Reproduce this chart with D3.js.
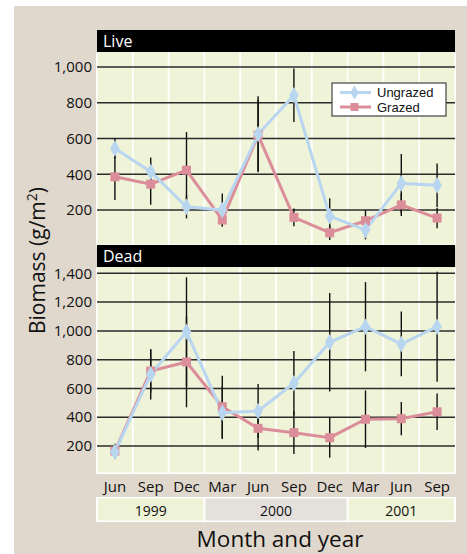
<!DOCTYPE html>
<html><head><meta charset="utf-8">
<script src="https://cdn.jsdelivr.net/npm/d3@7"></script>
<style>html,body{margin:0;padding:0;background:#fff;}svg{display:block;font-family:"Open Sans","Noto Sans",sans-serif;}</style>
</head><body>
<script>
const months = ["Jun","Sep","Dec","Mar","Jun","Sep","Dec","Mar","Jun","Sep"];
const monthYears = ["1999","1999","1999","2000","2000","2000","2000","2001","2001","2001"];
const years = ["1999","2000","2001"];
const seriesNames = ["Ungrazed","Grazed"];

const liveUngrazed    = [544,414,218,200,624,842,166, 88,349,338];
const liveUngrazedErr = [ 56, 80, 65, 93,212,150,100, 52,165,122];
const liveGrazed      = [386,345,423,144,619,159, 73,140,229,155];
const liveGrazedErr   = [130,115,213, 30,200, 50, 40, 60, 63, 57];

const deadUngrazed    = [160,698,994,432,443,636,921,1029,909,1029];
const deadUngrazedErr = [ 50,175,378,183,188,224,342, 310,225, 382];
const deadGrazed      = [165,721,784,473,323,293,258, 386,390, 438];
const deadGrazedErr   = [ 50,150,315,216,155,148,140, 200,116, 127];

const liveTicks = [200,400,600,800,1000];
const deadTicks = [200,400,600,800,1000,1200,1400];

const W = 467, H = 554;
const COL_U = "#b8d6f0", COL_G = "#db8e9a";
const keys = months.map((m,i)=>m+" "+monthYears[i]);

const svg = d3.select("body").append("svg").attr("width",W).attr("height",H);
svg.append("rect").attr("x",14).attr("y",6).attr("width",W-14).attr("height",H-6).attr("fill","#e0d8cc");

const x = d3.scaleBand().domain(keys).range([97,455]).padding(0);
const cx = k => x(k) + x.bandwidth()/2;
const fmt = d3.format(",");

const panels = [
  {title:"Live", headTop:30, plotTop:52, plotBottom:245, domain:[0,1084], range:[245.8,52], ticks:liveTicks,
   u:liveUngrazed, ue:liveUngrazedErr, g:liveGrazed, ge:liveGrazedErr},
  {title:"Dead", headTop:245, plotTop:267, plotBottom:473, domain:[0,1444], range:[474.8,267], ticks:deadTicks,
   u:deadUngrazed, ue:deadUngrazedErr, g:deadGrazed, ge:deadGrazedErr}
];

panels.forEach(p => {
  const y = d3.scaleLinear().domain(p.domain).range(p.range);
  const g = svg.append("g");
  g.append("rect").attr("x",96).attr("y",p.plotTop).attr("width",360).attr("height",p.plotBottom-p.plotTop+1).attr("fill","#fff");
  g.append("rect").attr("x",97.5).attr("y",p.plotTop).attr("width",357).attr("height",p.plotBottom-p.plotTop-0.5).attr("fill","#eff3d8");
  g.selectAll("line.sep").data(keys.slice(1)).join("line").attr("class","sep")
    .attr("x1",d=>x(d)).attr("x2",d=>x(d)).attr("y1",p.plotTop).attr("y2",p.plotBottom)
    .attr("stroke","#fff").attr("stroke-width",1.8);
  g.selectAll("line.grid").data(p.ticks).join("line").attr("class","grid")
    .attr("x1",97).attr("x2",455).attr("y1",d=>y(d)).attr("y2",d=>y(d))
    .attr("stroke","#2b2b2b").attr("stroke-width",1.5);
  g.selectAll("text.tick").data(p.ticks).join("text").attr("class","tick")
    .attr("x",92).attr("y",d=>y(d)).attr("dy","0.35em").attr("text-anchor","end")
    .attr("font-size",15).attr("fill","#111").text(d=>fmt(d));
  g.append("rect").attr("x",97).attr("y",p.headTop).attr("width",358).attr("height",22).attr("fill","#000");
  g.append("text").attr("x",103).attr("y",p.headTop+17).attr("font-size",16).attr("fill","#fff").text(p.title);
  const eb = (vals, errs) => g.append("g").selectAll("line").data(keys).join("line")
    .attr("x1",d=>cx(d)).attr("x2",d=>cx(d))
    .attr("y1",(d,i)=>y(vals[i]+errs[i])).attr("y2",(d,i)=>y(vals[i]-errs[i]))
    .attr("stroke","#111").attr("stroke-width",1.4);
  eb(p.u,p.ue); eb(p.g,p.ge);
  const line = vals => d3.line().x((d,i)=>cx(keys[i])).y(d=>y(d))(vals);
  g.append("path").attr("d",line(p.g)).attr("fill","none").attr("stroke",COL_G).attr("stroke-width",3);
  g.append("path").attr("d",line(p.u)).attr("fill","none").attr("stroke",COL_U).attr("stroke-width",3);
  g.append("g").selectAll("rect").data(p.g).join("rect")
    .attr("x",(d,i)=>cx(keys[i])-4.5).attr("y",d=>y(d)-4.5).attr("width",9).attr("height",9).attr("fill",COL_G);
  g.append("g").selectAll("path").data(p.u).join("path")
    .attr("d",d3.symbol(d3.symbolDiamond,80)())
    .attr("transform",(d,i)=>`translate(${cx(keys[i])},${y(d)})`).attr("fill",COL_U);
});

// legend
const lg = svg.append("g");
lg.append("rect").attr("x",332).attr("y",83).attr("width",114).attr("height",33).attr("fill","#fff").attr("stroke","#444").attr("stroke-width",1.2);
const legendRows = [{name:seriesNames[0],col:COL_U,y:92.5,shape:"d"},{name:seriesNames[1],col:COL_G,y:107,shape:"s"}];
legendRows.forEach(r => {
  lg.append("line").attr("x1",340).attr("x2",371).attr("y1",r.y).attr("y2",r.y).attr("stroke",r.col).attr("stroke-width",3);
  if (r.shape==="s") lg.append("rect").attr("x",350.5).attr("y",r.y-4).attr("width",8).attr("height",8).attr("fill",r.col);
  else lg.append("path").attr("d",d3.symbol(d3.symbolDiamond,60)()).attr("transform",`translate(354.5,${r.y})`).attr("fill",r.col);
  lg.append("text").attr("x",377).attr("y",r.y).attr("dy","0.35em").attr("font-size",13)
    .attr("font-family","'Liberation Sans',Arial,sans-serif").attr("fill","#111").text(r.name);
});

// month labels
svg.append("g").selectAll("text").data(keys).join("text")
  .attr("x",d=>cx(d)).attr("y",492).attr("text-anchor","middle").attr("font-size",15).attr("fill","#111")
  .text((d,i)=>months[i]);

// year bar
const yearFill = {"1999":"#eef2d6","2000":"#e4e0dc","2001":"#eef2d6"};
svg.append("rect").attr("x",96).attr("y",497).attr("width",360).attr("height",25).attr("fill","#fff");
years.forEach(yr => {
  const ks = keys.filter((k,i)=>monthYears[i]===yr);
  const x0 = x(ks[0]), x1 = x(ks[ks.length-1]) + x.bandwidth();
  svg.append("rect").attr("x",x0+1).attr("y",498.5).attr("width",x1-x0-2).attr("height",22).attr("fill",yearFill[yr]);
  svg.append("text").attr("x",(x0+x1)/2).attr("y",515.5).attr("text-anchor","middle").attr("font-size",14).attr("fill","#111").text(yr);
});

// axis titles
svg.append("text").attr("x",280).attr("y",546.5).attr("text-anchor","middle").attr("font-size",22.5).attr("fill","#111").text("Month and year");
const yt = svg.append("text").attr("transform","translate(45,260.5) rotate(-90)").attr("text-anchor","middle").attr("font-size",21).attr("fill","#111");
yt.append("tspan").text("Biomass (g/m");
yt.append("tspan").attr("dy",-8).attr("font-size",14).text("2");
yt.append("tspan").attr("dy",8).text(")");
</script>
</body></html>
